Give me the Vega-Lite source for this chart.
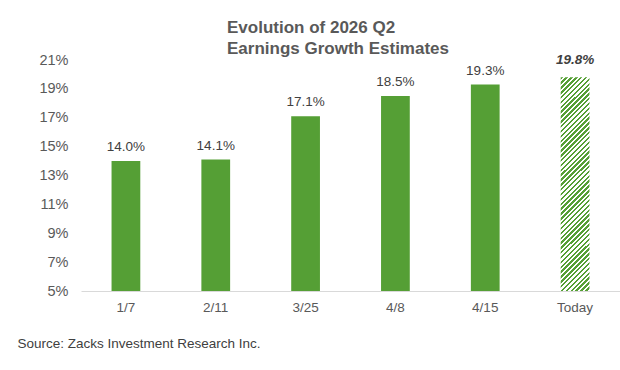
{
  "$schema": "https://vega.github.io/schema/vega-lite/v6.json",
  "width": 539,
  "height": 231,
  "autosize": {"type": "none"},
  "padding": {"left": 81, "top": 60, "right": 0, "bottom": 79},
  "background": "white",
  "config": {"font": "Liberation Sans", "view": {"stroke": null}},
  "title": {
    "text": ["Evolution of 2026 Q2", "Earnings Growth Estimates"],
    "anchor": "start",
    "frame": "group",
    "dx": 146,
    "dy": 6,
    "offset": 0,
    "fontSize": 17,
    "fontWeight": "bold",
    "color": "#595959",
    "lineHeight": 21
  },
  "data": {
    "values": [
      {"date": "1/7", "growth": 0.140, "kind": "actual"},
      {"date": "2/11", "growth": 0.141, "kind": "actual"},
      {"date": "3/25", "growth": 0.171, "kind": "actual"},
      {"date": "4/8", "growth": 0.185, "kind": "actual"},
      {"date": "4/15", "growth": 0.193, "kind": "actual"},
      {"date": "Today", "growth": 0.198, "kind": "estimate"}
    ]
  },
  "encoding": {
    "x": {
      "field": "date",
      "type": "nominal",
      "sort": null,
      "scale": {"paddingInner": 0.68, "paddingOuter": 0.34},
      "axis": {
        "title": "Source: Zacks Investment Research Inc.",
        "titleAnchor": "start",
        "titleAlign": "left",
        "titleX": -64,
        "titleY": 52,
        "titleBaseline": "middle",
        "titleFontSize": 13.5,
        "titleFontWeight": "normal",
        "titleColor": "#404040",
        "labelAngle": 0,
        "labelFontSize": 13.5,
        "labelColor": "#595959",
        "labelPadding": 9,
        "ticks": false,
        "domainColor": "#d9d9d9",
        "domainWidth": 1
      }
    },
    "y": {
      "field": "growth",
      "type": "quantitative",
      "scale": {"domain": [0.05, 0.21], "nice": false, "zero": false},
      "axis": {
        "title": null,
        "values": [0.05, 0.07, 0.09, 0.11, 0.13, 0.15, 0.17, 0.19, 0.21],
        "format": ".0%",
        "domain": false,
        "ticks": false,
        "grid": false,
        "labelPadding": 13,
        "labelFontSize": 14.5,
        "labelColor": "#595959"
      }
    }
  },
  "layer": [
    {
      "transform": [{"filter": "datum.kind == 'actual'"}],
      "mark": {"type": "bar", "color": "#559f35"},
      "encoding": {"y2": {"datum": 0.05}}
    },
    {
      "transform": [{"filter": "datum.kind == 'estimate'"}],
      "encoding": {"y2": {"datum": 0.05}},
      "mark": {
        "type": "bar",
        "color": {
          "gradient": "linear",
          "x1": 0, "y1": 0, "x2": 0.1496, "y2": 1.1143,
          "stops": [
            {"offset": 0, "color": "#559f35"},
            {"offset": 0.01, "color": "#559f35"}, {"offset": 0.01, "color": "#ffffff"},
            {"offset": 0.02, "color": "#ffffff"}, {"offset": 0.02, "color": "#559f35"},
            {"offset": 0.03, "color": "#559f35"}, {"offset": 0.03, "color": "#ffffff"},
            {"offset": 0.04, "color": "#ffffff"}, {"offset": 0.04, "color": "#559f35"},
            {"offset": 0.05, "color": "#559f35"}, {"offset": 0.05, "color": "#ffffff"},
            {"offset": 0.06, "color": "#ffffff"}, {"offset": 0.06, "color": "#559f35"},
            {"offset": 0.07, "color": "#559f35"}, {"offset": 0.07, "color": "#ffffff"},
            {"offset": 0.08, "color": "#ffffff"}, {"offset": 0.08, "color": "#559f35"},
            {"offset": 0.09, "color": "#559f35"}, {"offset": 0.09, "color": "#ffffff"},
            {"offset": 0.10, "color": "#ffffff"}, {"offset": 0.10, "color": "#559f35"},
            {"offset": 0.11, "color": "#559f35"}, {"offset": 0.11, "color": "#ffffff"},
            {"offset": 0.12, "color": "#ffffff"}, {"offset": 0.12, "color": "#559f35"},
            {"offset": 0.13, "color": "#559f35"}, {"offset": 0.13, "color": "#ffffff"},
            {"offset": 0.14, "color": "#ffffff"}, {"offset": 0.14, "color": "#559f35"},
            {"offset": 0.15, "color": "#559f35"}, {"offset": 0.15, "color": "#ffffff"},
            {"offset": 0.16, "color": "#ffffff"}, {"offset": 0.16, "color": "#559f35"},
            {"offset": 0.17, "color": "#559f35"}, {"offset": 0.17, "color": "#ffffff"},
            {"offset": 0.18, "color": "#ffffff"}, {"offset": 0.18, "color": "#559f35"},
            {"offset": 0.19, "color": "#559f35"}, {"offset": 0.19, "color": "#ffffff"},
            {"offset": 0.20, "color": "#ffffff"}, {"offset": 0.20, "color": "#559f35"},
            {"offset": 0.21, "color": "#559f35"}, {"offset": 0.21, "color": "#ffffff"},
            {"offset": 0.22, "color": "#ffffff"}, {"offset": 0.22, "color": "#559f35"},
            {"offset": 0.23, "color": "#559f35"}, {"offset": 0.23, "color": "#ffffff"},
            {"offset": 0.24, "color": "#ffffff"}, {"offset": 0.24, "color": "#559f35"},
            {"offset": 0.25, "color": "#559f35"}, {"offset": 0.25, "color": "#ffffff"},
            {"offset": 0.26, "color": "#ffffff"}, {"offset": 0.26, "color": "#559f35"},
            {"offset": 0.27, "color": "#559f35"}, {"offset": 0.27, "color": "#ffffff"},
            {"offset": 0.28, "color": "#ffffff"}, {"offset": 0.28, "color": "#559f35"},
            {"offset": 0.29, "color": "#559f35"}, {"offset": 0.29, "color": "#ffffff"},
            {"offset": 0.30, "color": "#ffffff"}, {"offset": 0.30, "color": "#559f35"},
            {"offset": 0.31, "color": "#559f35"}, {"offset": 0.31, "color": "#ffffff"},
            {"offset": 0.32, "color": "#ffffff"}, {"offset": 0.32, "color": "#559f35"},
            {"offset": 0.33, "color": "#559f35"}, {"offset": 0.33, "color": "#ffffff"},
            {"offset": 0.34, "color": "#ffffff"}, {"offset": 0.34, "color": "#559f35"},
            {"offset": 0.35, "color": "#559f35"}, {"offset": 0.35, "color": "#ffffff"},
            {"offset": 0.36, "color": "#ffffff"}, {"offset": 0.36, "color": "#559f35"},
            {"offset": 0.37, "color": "#559f35"}, {"offset": 0.37, "color": "#ffffff"},
            {"offset": 0.38, "color": "#ffffff"}, {"offset": 0.38, "color": "#559f35"},
            {"offset": 0.39, "color": "#559f35"}, {"offset": 0.39, "color": "#ffffff"},
            {"offset": 0.40, "color": "#ffffff"}, {"offset": 0.40, "color": "#559f35"},
            {"offset": 0.41, "color": "#559f35"}, {"offset": 0.41, "color": "#ffffff"},
            {"offset": 0.42, "color": "#ffffff"}, {"offset": 0.42, "color": "#559f35"},
            {"offset": 0.43, "color": "#559f35"}, {"offset": 0.43, "color": "#ffffff"},
            {"offset": 0.44, "color": "#ffffff"}, {"offset": 0.44, "color": "#559f35"},
            {"offset": 0.45, "color": "#559f35"}, {"offset": 0.45, "color": "#ffffff"},
            {"offset": 0.46, "color": "#ffffff"}, {"offset": 0.46, "color": "#559f35"},
            {"offset": 0.47, "color": "#559f35"}, {"offset": 0.47, "color": "#ffffff"},
            {"offset": 0.48, "color": "#ffffff"}, {"offset": 0.48, "color": "#559f35"},
            {"offset": 0.49, "color": "#559f35"}, {"offset": 0.49, "color": "#ffffff"},
            {"offset": 0.50, "color": "#ffffff"}, {"offset": 0.50, "color": "#559f35"},
            {"offset": 0.51, "color": "#559f35"}, {"offset": 0.51, "color": "#ffffff"},
            {"offset": 0.52, "color": "#ffffff"}, {"offset": 0.52, "color": "#559f35"},
            {"offset": 0.53, "color": "#559f35"}, {"offset": 0.53, "color": "#ffffff"},
            {"offset": 0.54, "color": "#ffffff"}, {"offset": 0.54, "color": "#559f35"},
            {"offset": 0.55, "color": "#559f35"}, {"offset": 0.55, "color": "#ffffff"},
            {"offset": 0.56, "color": "#ffffff"}, {"offset": 0.56, "color": "#559f35"},
            {"offset": 0.57, "color": "#559f35"}, {"offset": 0.57, "color": "#ffffff"},
            {"offset": 0.58, "color": "#ffffff"}, {"offset": 0.58, "color": "#559f35"},
            {"offset": 0.59, "color": "#559f35"}, {"offset": 0.59, "color": "#ffffff"},
            {"offset": 0.60, "color": "#ffffff"}, {"offset": 0.60, "color": "#559f35"},
            {"offset": 0.61, "color": "#559f35"}, {"offset": 0.61, "color": "#ffffff"},
            {"offset": 0.62, "color": "#ffffff"}, {"offset": 0.62, "color": "#559f35"},
            {"offset": 0.63, "color": "#559f35"}, {"offset": 0.63, "color": "#ffffff"},
            {"offset": 0.64, "color": "#ffffff"}, {"offset": 0.64, "color": "#559f35"},
            {"offset": 0.65, "color": "#559f35"}, {"offset": 0.65, "color": "#ffffff"},
            {"offset": 0.66, "color": "#ffffff"}, {"offset": 0.66, "color": "#559f35"},
            {"offset": 0.67, "color": "#559f35"}, {"offset": 0.67, "color": "#ffffff"},
            {"offset": 0.68, "color": "#ffffff"}, {"offset": 0.68, "color": "#559f35"},
            {"offset": 0.69, "color": "#559f35"}, {"offset": 0.69, "color": "#ffffff"},
            {"offset": 0.70, "color": "#ffffff"}, {"offset": 0.70, "color": "#559f35"},
            {"offset": 0.71, "color": "#559f35"}, {"offset": 0.71, "color": "#ffffff"},
            {"offset": 0.72, "color": "#ffffff"}, {"offset": 0.72, "color": "#559f35"},
            {"offset": 0.73, "color": "#559f35"}, {"offset": 0.73, "color": "#ffffff"},
            {"offset": 0.74, "color": "#ffffff"}, {"offset": 0.74, "color": "#559f35"},
            {"offset": 0.75, "color": "#559f35"}, {"offset": 0.75, "color": "#ffffff"},
            {"offset": 0.76, "color": "#ffffff"}, {"offset": 0.76, "color": "#559f35"},
            {"offset": 0.77, "color": "#559f35"}, {"offset": 0.77, "color": "#ffffff"},
            {"offset": 0.78, "color": "#ffffff"}, {"offset": 0.78, "color": "#559f35"},
            {"offset": 0.79, "color": "#559f35"}, {"offset": 0.79, "color": "#ffffff"},
            {"offset": 0.80, "color": "#ffffff"}, {"offset": 0.80, "color": "#559f35"},
            {"offset": 0.81, "color": "#559f35"}, {"offset": 0.81, "color": "#ffffff"},
            {"offset": 0.82, "color": "#ffffff"}, {"offset": 0.82, "color": "#559f35"},
            {"offset": 0.83, "color": "#559f35"}, {"offset": 0.83, "color": "#ffffff"},
            {"offset": 0.84, "color": "#ffffff"}, {"offset": 0.84, "color": "#559f35"},
            {"offset": 0.85, "color": "#559f35"}, {"offset": 0.85, "color": "#ffffff"},
            {"offset": 0.86, "color": "#ffffff"}, {"offset": 0.86, "color": "#559f35"},
            {"offset": 0.87, "color": "#559f35"}, {"offset": 0.87, "color": "#ffffff"},
            {"offset": 0.88, "color": "#ffffff"}, {"offset": 0.88, "color": "#559f35"},
            {"offset": 0.89, "color": "#559f35"}, {"offset": 0.89, "color": "#ffffff"},
            {"offset": 0.90, "color": "#ffffff"}, {"offset": 0.90, "color": "#559f35"},
            {"offset": 0.91, "color": "#559f35"}, {"offset": 0.91, "color": "#ffffff"},
            {"offset": 0.92, "color": "#ffffff"}, {"offset": 0.92, "color": "#559f35"},
            {"offset": 0.93, "color": "#559f35"}, {"offset": 0.93, "color": "#ffffff"},
            {"offset": 0.94, "color": "#ffffff"}, {"offset": 0.94, "color": "#559f35"},
            {"offset": 0.95, "color": "#559f35"}, {"offset": 0.95, "color": "#ffffff"},
            {"offset": 0.96, "color": "#ffffff"}, {"offset": 0.96, "color": "#559f35"},
            {"offset": 0.97, "color": "#559f35"}, {"offset": 0.97, "color": "#ffffff"},
            {"offset": 0.98, "color": "#ffffff"}, {"offset": 0.98, "color": "#559f35"},
            {"offset": 0.99, "color": "#559f35"}, {"offset": 0.99, "color": "#ffffff"},
            {"offset": 1, "color": "#ffffff"}
          ]
        }
      }
    },
    {
      "transform": [{"filter": "datum.kind == 'actual'"}],
      "mark": {"type": "text", "baseline": "alphabetic", "dy": -10, "fontSize": 13.5, "color": "#404040"},
      "encoding": {"text": {"field": "growth", "type": "quantitative", "format": ".1%"}}
    },
    {
      "transform": [{"filter": "datum.kind == 'estimate'"}],
      "mark": {"type": "text", "baseline": "alphabetic", "dy": -13, "fontSize": 13.5, "fontWeight": "bold", "fontStyle": "italic", "color": "#404040"},
      "encoding": {"text": {"field": "growth", "type": "quantitative", "format": ".1%"}}
    }
  ]
}
